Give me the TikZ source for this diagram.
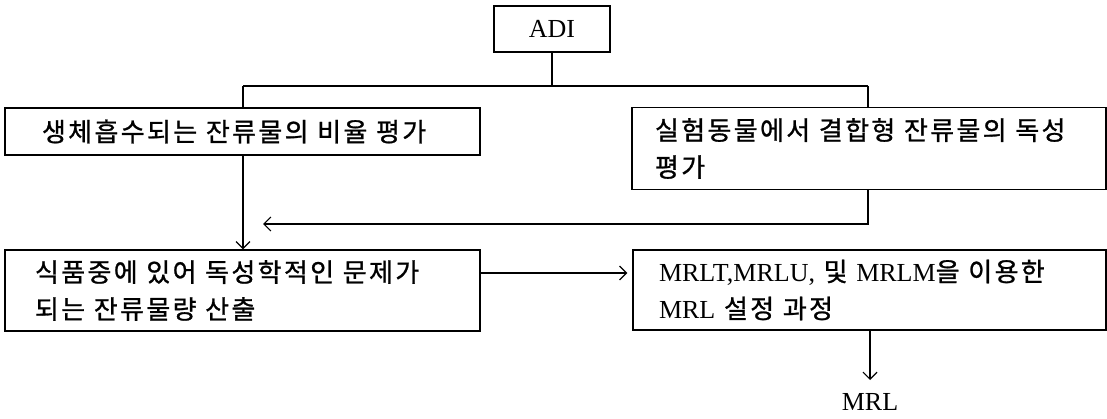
\documentclass[tikz,border=0pt]{standalone}
\usepackage{fontspec}
\setmainfont{Liberation Serif}
\newfontfamily\kr[WordSpace=3.3,LetterSpace=9,FakeBold=1]{Noto Sans CJK KR}
\usetikzlibrary{arrows.meta}
\begin{document}
\begin{tikzpicture}[x=1pt,y=-1pt,
  line width=1.2pt,
  box/.style={draw, rectangle, inner ysep=0pt, align=left, font=\fontsize{26}{37}\selectfont},
  arr/.style={-{Straight Barb[length=7pt,width=14pt,line width=1.2pt]}},
  lbl/.style={inner sep=0pt, font=\fontsize{26}{30}\selectfont}]
\useasboundingbox (0,0) rectangle (1107,419);
\node[box, minimum width=116pt, minimum height=46pt, align=center] (adi) at (552,29) {ADI};
\node[box, minimum width=475pt, minimum height=47pt, inner xsep=37pt, text width=401pt] (A) at (242.5,131.5)
  {\kr 생체흡수되는 잔류물의 비율 평가};
\node[box, minimum width=474pt, minimum height=82pt, inner xsep=23pt, text width=428pt] (B) at (869,148.5)
  {\kr 실험동물에서 결합형 잔류물의 독성\\ \kr 평가};
\node[box, minimum width=475pt, minimum height=81pt, inner xsep=30pt, text width=415pt] (C) at (242.5,290.5)
  {\kr 식품중에 있어 독성학적인 문제가\\ \kr 되는 잔류물량 산출};
\node[box, minimum width=473pt, minimum height=80pt, inner xsep=26pt, text width=421pt] (D) at (869.5,290)
  {MRLT,MRLU, {\kr 및} MRLM{\kr 을 이용한}\\ MRL {\kr 설정 과정}};
\node[lbl] (mrl) at (870,402) {MRL};
\coordinate (jl) at (243,86);
\coordinate (jr) at (868,86);
\coordinate (bk) at (263,224);
\coordinate (me) at (870,380);
\draw (adi.south) -- (adi.south |- jl);
\draw (jl) -- (jr);
\draw (jl) -- (jl |- A.north);
\draw (jr) -- (jr |- B.north);
\draw[arr] (jl |- A.south) -- (jl |- C.north);
\draw[arr] (jr |- B.south) -- (jr |- bk) -- (bk);
\draw[arr, shorten >=5pt] (C.east |- 0,273) -- (D.west |- 0,273);
\draw[arr] (me |- D.south) -- (me);
\end{tikzpicture}
\end{document}
